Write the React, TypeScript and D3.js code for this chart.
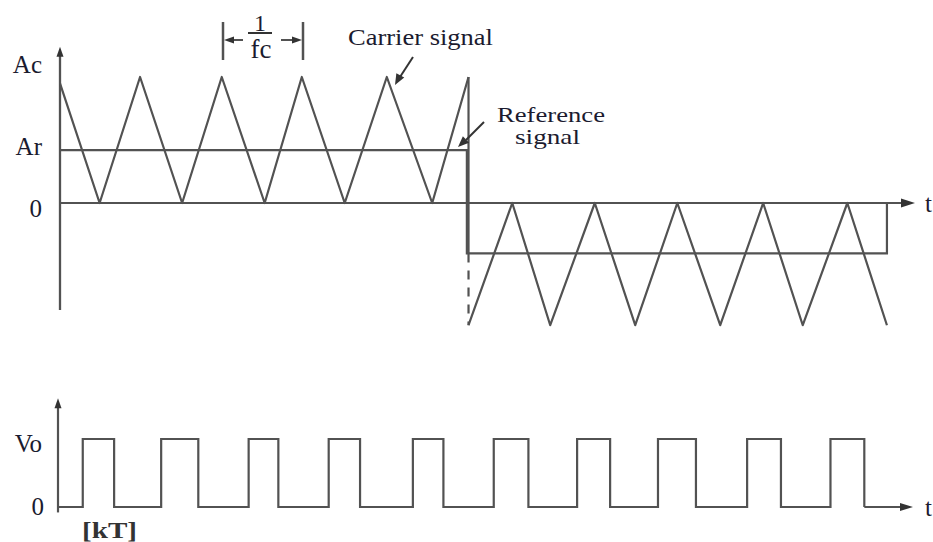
import { useEffect } from "react";
import * as d3 from "d3";

// time is in carrier periods, values are normalised to the carrier peak (Ac = 1)
const carrierPos: [number, number][] = [
  [0, 0.95], [0.48, 0], [0.97, 1], [1.48, 0], [1.96, 1], [2.48, 0],
  [2.93, 1], [3.45, 0], [3.96, 1], [4.51, 0], [4.95, 1],
];
const carrierNeg: [number, number][] = [
  [4.95, -0.97], [5.48, 0], [5.94, -0.97], [6.48, 0], [6.97, -0.97], [7.48, 0],
  [8.0, -0.97], [8.52, 0], [9.0, -0.97], [9.54, 0], [10.02, -0.97],
];
const reference: [number, number][] = [
  [0, 0.42], [4.93, 0.42], [4.93, -0.4], [10.02, -0.4], [10.02, 0],
];
const switchT = 4.95;
const switchSolidTo = -0.4;
const switchDashTo = -0.97;

// output pulses [start, end] in carrier periods
const pulses: [number, number][] = [
  [0.3, 0.68], [1.25, 1.7], [2.31, 2.67], [3.28, 3.66], [4.3, 4.67],
  [5.28, 5.7], [6.29, 6.69], [7.27, 7.73], [8.35, 8.76], [9.36, 9.77],
];
const tEnd = 10.36;
const topYLabels = [
  { text: "Ac", v: 1.1 },
  { text: "Ar", v: 0.45 },
  { text: "0", v: -0.04 },
];

const W = 933;
const H = 542;
const ink = "#525252";
const txt = "#1b1b2f";
const font = "Liberation Serif";

function arrowHead(tipX: number, tipY: number, dx: number, dy: number, len = 11, half = 4.5) {
  const n = Math.hypot(dx, dy);
  const ux = dx / n, uy = dy / n;
  const bx = tipX - ux * len, by = tipY - uy * len;
  return `M${tipX},${tipY}L${bx - uy * half},${by + ux * half}L${bx + uy * half},${by - ux * half}Z`;
}

export default function App() {
  useEffect(() => {
    document.body.style.margin = "0";
  }, []);

  const x = d3.scaleLinear().domain([0, tEnd]).range([60, 915]);
  const y = d3.scaleLinear().domain([0, 1]).range([203, 77]);
  const xb = d3.scaleLinear().domain([0, tEnd]).range([58, 913]);
  const yb = d3.scaleLinear().domain([0, 1]).range([507, 439]);

  const line = d3.line<[number, number]>().x((d) => x(d[0])).y((d) => y(d[1]));

  const pwm: [number, number][] = [[0, 0]];
  pulses.forEach(([a, b]) => {
    pwm.push([a, 0], [a, 1], [b, 1], [b, 0]);
  });
  const pwmLine = d3.line<[number, number]>().x((d) => xb(d[0])).y((d) => yb(d[1]));

  const x0 = x(0);
  const y0 = y(0);

  return (
    <svg width={W} height={H} style={{ display: "block", background: "#fff", fontFamily: font }}>
      {/* top panel axes */}
      <line x1={x0} x2={x0} y1={y(1.18)} y2={y(-0.85)} stroke={ink} strokeWidth={2.3} />
      <path d={arrowHead(x0, y(1.24), 0, -1, 10, 3.5)} fill="#333" />
      <line x1={x0} x2={x(tEnd) - 8} y1={y0} y2={y0} stroke={ink} strokeWidth={2.2} />
      <path d={arrowHead(x(tEnd), y0, 1, 0, 14, 4.5)} fill="#333" />
      <text x={925} y={y0 + 9} fontSize={25} fill={txt}>t</text>

      {topYLabels.map((d) => (
        <text key={d.text} x={42} y={y(d.v) + 9} fontSize={25} fill={txt} textAnchor="end">{d.text}</text>
      ))}

      {/* reference signal */}
      <path d={line(reference) ?? ""} fill="none" stroke={ink} strokeWidth={2.2} />

      {/* carrier signal */}
      <path d={line(carrierPos) ?? ""} fill="none" stroke={ink} strokeWidth={2.2} strokeLinejoin="round" />
      <line x1={x(switchT)} x2={x(switchT)} y1={y(1)} y2={y(switchSolidTo)} stroke={ink} strokeWidth={2.2} />
      <line x1={x(switchT)} x2={x(switchT)} y1={y(switchSolidTo)} y2={y(switchDashTo)}
        stroke={ink} strokeWidth={2.2} strokeDasharray="9,8" />
      <path d={line(carrierNeg) ?? ""} fill="none" stroke={ink} strokeWidth={2.2} strokeLinejoin="round" />

      {/* 1/fc period marker */}
      <line x1={223} x2={223} y1={22} y2={60} stroke={ink} strokeWidth={2.5} />
      <line x1={303} x2={303} y1={22} y2={60} stroke={ink} strokeWidth={2.5} />
      <line x1={230} x2={243} y1={40} y2={40} stroke={ink} strokeWidth={2} />
      <path d={arrowHead(224, 40, -1, 0, 10, 3.5)} fill="#333" />
      <line x1={281} x2={294} y1={40} y2={40} stroke={ink} strokeWidth={2} />
      <path d={arrowHead(302, 40, 1, 0, 10, 3.5)} fill="#333" />
      <text x={260} y={31} fontSize={24} fill={txt} textAnchor="middle">1</text>
      <line x1={248} x2={272} y1={33} y2={33} stroke="#333" strokeWidth={2} />
      <text x={261} y={58} fontSize={27} fill={txt} textAnchor="middle">fc</text>

      {/* annotations */}
      <text x={348} y={45} fontSize={24} fill={txt} textLength={145} lengthAdjust="spacingAndGlyphs">Carrier signal</text>
      <line x1={413} x2={400} y1={57} y2={77} stroke="#333" strokeWidth={2} />
      <path d={arrowHead(395, 85, -0.55, 1, 11, 4.5)} fill="#333" />
      <text x={497} y={122} fontSize={22} fill={txt} textLength={108} lengthAdjust="spacingAndGlyphs">Reference</text>
      <text x={515} y={144} fontSize={22} fill={txt} textLength={65} lengthAdjust="spacingAndGlyphs">signal</text>
      <line x1={484} x2={466} y1={122} y2={140} stroke="#333" strokeWidth={2} />
      <path d={arrowHead(458, 147, -1, 0.95, 11, 4.5)} fill="#333" />

      {/* bottom panel */}
      <line x1={xb(0)} x2={xb(0)} y1={yb(1.5)} y2={yb(-0.08)} stroke={ink} strokeWidth={2.2} />
      <path d={arrowHead(xb(0), yb(1.6), 0, -1, 10, 3.5)} fill="#333" />
      <path d={pwmLine(pwm) ?? ""} fill="none" stroke={ink} strokeWidth={2.2} />
      <line x1={xb(pulses[pulses.length - 1][1])} x2={xb(tEnd) - 8} y1={yb(0)} y2={yb(0)} stroke={ink} strokeWidth={2.2} />
      <path d={arrowHead(xb(tEnd), yb(0), 1, 0, 13, 4)} fill="#333" />
      <text x={925} y={yb(0) + 9} fontSize={25} fill={txt}>t</text>
      <text x={42} y={yb(1) + 13} fontSize={25} fill={txt} textAnchor="end">Vo</text>
      <text x={44} y={yb(0) + 8} fontSize={25} fill={txt} textAnchor="end">0</text>
      <text x={82} y={538} fontSize={23} fontWeight="bold" fill="#333" textLength={55} lengthAdjust="spacingAndGlyphs">[kT]</text>
    </svg>
  );
}
